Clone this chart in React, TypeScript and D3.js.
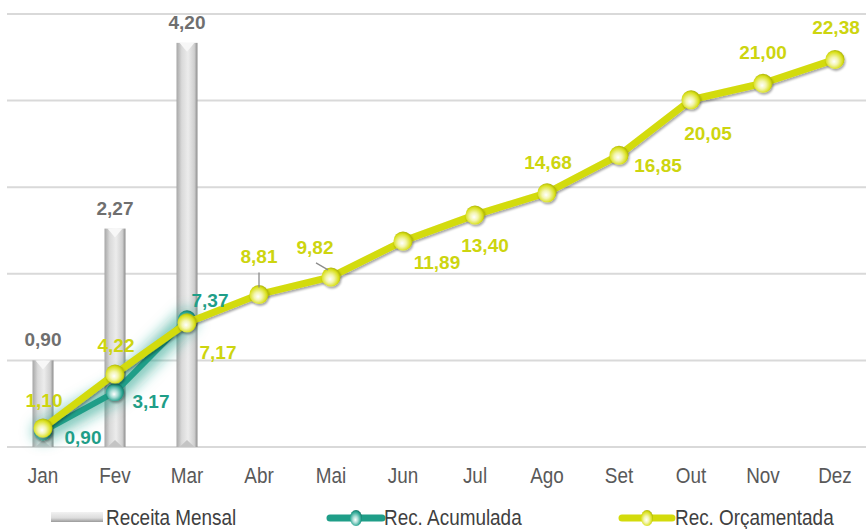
// Receita: barras mensais + linhas acumulada / orçamentada
import React, { useEffect, useRef } from 'react';
import * as d3 from 'd3';

const months = ['Jan', 'Fev', 'Mar', 'Abr', 'Mai', 'Jun', 'Jul', 'Ago', 'Set', 'Out', 'Nov', 'Dez'];
const monthly = [0.9, 2.27, 4.2];
const accumulated = [0.9, 3.17, 7.37];
const budget = [1.1, 4.22, 7.17, 8.81, 9.82, 11.89, 13.4, 14.68, 16.85, 20.05, 21.0, 22.38];
const yTicks = [0, 5, 10, 15, 20, 25];
const legendItems = ['Receita Mensal', 'Rec. Acumulada', 'Rec. Orçamentada'];

// label offsets (dx, dy) from the point, text centred
const budgetLabelOffset: [number, number][] = [
  [1, -21], [1, -22], [31, 36], [0, -31], [-16, -23], [34, 28],
  [10, 37], [1, -24], [39, 17], [17, 40], [0, -24], [1, -25],
];
const accLabelOffset: [number, number][] = [[40, 13], [36, 16], [23, -12]];
const leaderIdx = [3, 4];

const YELLOW = '#d3db0b';
const YELLOW_TXT = '#cdd50f';
const TEAL = '#1f9e88';
const GRAY_TXT = '#6f6f6f';
const fmt = (v: number) => v.toFixed(2).replace('.', ',');
const FONT = '"Liberation Sans", Arial, sans-serif';
const NARROW = 0.86;

const App: React.FC = () => {
  const svgRef = useRef<SVGSVGElement>(null);

  useEffect(() => {
    if (!svgRef.current) return;
    const svg = d3.select(svgRef.current);
    svg.selectAll('*').remove();

    const width = 866;
    const height = 529;
    const top = 14;
    const bottom = 447;

    const x = d3.scaleBand<string>().domain(months).range([7, 871]).padding(0);
    const cx = (i: number) => (x(months[i]) as number) + x.bandwidth() / 2;
    const y = d3.scaleLinear().domain([0, 25]).range([bottom, top]);
    const y2 = d3.scaleLinear().domain([0, 4.5]).range([bottom, top]);

    const defs = svg.append('defs');

    // bar gradient
    const bg = defs.append('linearGradient').attr('id', 'barGrad').attr('x1', '0%').attr('x2', '100%');
    bg.append('stop').attr('offset', '0%').attr('stop-color', '#a6a6a6');
    bg.append('stop').attr('offset', '25%').attr('stop-color', '#d9d9d9');
    bg.append('stop').attr('offset', '55%').attr('stop-color', '#ececec');
    bg.append('stop').attr('offset', '85%').attr('stop-color', '#cfcfcf');
    bg.append('stop').attr('offset', '100%').attr('stop-color', '#8c8c8c');

    const lg = defs.append('linearGradient').attr('id', 'legBar').attr('x1', '0%').attr('y1', '0%').attr('x2', '0%').attr('y2', '100%');
    lg.append('stop').attr('offset', '0%').attr('stop-color', '#f2f2f2');
    lg.append('stop').attr('offset', '60%').attr('stop-color', '#dcdcdc');
    lg.append('stop').attr('offset', '100%').attr('stop-color', '#9a9a9a');

    // sphere gradients
    const sphere = (id: string, light: string, mid: string, dark: string) => {
      const g = defs.append('radialGradient').attr('id', id)
        .attr('cx', '45%').attr('cy', '55%').attr('r', '60%').attr('fx', '45%').attr('fy', '62%');
      g.append('stop').attr('offset', '0%').attr('stop-color', '#ffffff');
      g.append('stop').attr('offset', '35%').attr('stop-color', light);
      g.append('stop').attr('offset', '75%').attr('stop-color', mid);
      g.append('stop').attr('offset', '100%').attr('stop-color', dark);
    };
    sphere('sphY', '#f3f5b0', '#d9e01c', '#9da400');
    sphere('sphT', '#a8ddd5', '#2aa592', '#12695b');

    const glow = defs.append('filter').attr('id', 'glow').attr('x', '-40%').attr('y', '-40%').attr('width', '180%').attr('height', '180%');
    glow.append('feGaussianBlur').attr('stdDeviation', 7);

    const shadow = defs.append('filter').attr('id', 'shadow').attr('x', '-50%').attr('y', '-50%').attr('width', '200%').attr('height', '200%');
    shadow.append('feDropShadow').attr('dx', 1).attr('dy', 2).attr('stdDeviation', 1.2).attr('flood-color', '#000').attr('flood-opacity', 0.35);

    // grid
    svg.append('g')
      .selectAll('line')
      .data(yTicks)
      .enter()
      .append('line')
      .attr('x1', 7)
      .attr('x2', width)
      .attr('y1', (d) => y(d))
      .attr('y2', (d) => y(d))
      .attr('stroke', '#d9d9d9')
      .attr('stroke-width', 2);

    // bars (secondary axis)
    const bw = 21;
    const bars = svg.append('g');
    monthly.forEach((v, i) => {
      const x0 = cx(i) - bw / 2;
      const yt = y2(v);
      bars.append('rect')
        .attr('x', x0).attr('y', yt).attr('width', bw).attr('height', bottom - yt)
        .attr('fill', 'url(#barGrad)');
      bars.append('path')
        .attr('d', `M${x0 + 3},${yt} L${x0 + bw - 3},${yt} L${x0 + bw / 2},${yt + 9} Z`)
        .attr('fill', '#f7f7f7');
      bars.append('path')
        .attr('d', `M${x0 + 3},${bottom} L${x0 + bw - 3},${bottom} L${x0 + bw / 2},${bottom - 7} Z`)
        .attr('fill', '#c4c4c4');
      bars.append('text')
        .attr('x', cx(i)).attr('y', yt - 14)
        .attr('text-anchor', 'middle')
        .attr('font-family', FONT)
        .attr('font-weight', 'bold').attr('font-size', 19)
        .attr('fill', GRAY_TXT)
        .text(fmt(v));
    });

    // x axis labels (condensed)
    svg.append('g')
      .selectAll('text')
      .data(months)
      .enter()
      .append('text')
      .attr('transform', (_d, i) => `translate(${cx(i)},483) scale(${NARROW},1)`)
      .attr('text-anchor', 'middle')
      .attr('font-family', FONT)
      .attr('font-size', 22)
      .attr('fill', '#595959')
      .text((d) => d);

    const line = d3.line<number>()
      .x((_d, i) => cx(i))
      .y((d) => y(d));

    // accumulated: glow + line
    svg.append('path')
      .datum(accumulated)
      .attr('d', line)
      .attr('fill', 'none')
      .attr('stroke', TEAL)
      .attr('stroke-width', 20)
      .attr('stroke-opacity', 0.6)
      .attr('stroke-linejoin', 'round')
      .attr('stroke-linecap', 'round')
      .attr('filter', 'url(#glow)');
    svg.append('path')
      .datum(accumulated)
      .attr('d', line)
      .attr('fill', 'none')
      .attr('stroke', TEAL)
      .attr('stroke-width', 6)
      .attr('stroke-linejoin', 'round');
    svg.append('g')
      .selectAll('circle')
      .data(accumulated)
      .enter()
      .append('circle')
      .attr('cx', (_d, i) => cx(i))
      .attr('cy', (d) => y(d))
      .attr('r', 9)
      .attr('fill', 'url(#sphT)')
      .attr('filter', 'url(#shadow)');

    // budget line
    svg.append('path')
      .datum(budget)
      .attr('d', line)
      .attr('fill', 'none')
      .attr('stroke', YELLOW)
      .attr('stroke-width', 7)
      .attr('stroke-linejoin', 'round')
      .attr('filter', 'url(#shadow)');
    svg.append('g')
      .selectAll('circle')
      .data(budget)
      .enter()
      .append('circle')
      .attr('cx', (_d, i) => cx(i))
      .attr('cy', (d) => y(d))
      .attr('r', 9.5)
      .attr('fill', 'url(#sphY)')
      .attr('filter', 'url(#shadow)');

    // leader lines
    leaderIdx.forEach((i) => {
      const [dx, dy] = budgetLabelOffset[i];
      const px = cx(i);
      const py = y(budget[i]);
      svg.append('line')
        .attr('x1', px + dx + (dx < 0 ? 1 : 0)).attr('y1', py + dy + 9)
        .attr('x2', px - (dx < 0 ? 3 : 0)).attr('y2', py - 7)
        .attr('stroke', '#8c8c8c').attr('stroke-width', 1.3);
    });

    // labels
    svg.append('g')
      .selectAll('text')
      .data(budget)
      .enter()
      .append('text')
      .attr('x', (_d, i) => cx(i) + budgetLabelOffset[i][0])
      .attr('y', (d, i) => y(d) + budgetLabelOffset[i][1])
      .attr('text-anchor', 'middle')
      .attr('font-family', FONT)
      .attr('font-weight', 'bold').attr('font-size', 19)
      .attr('fill', YELLOW_TXT)
      .text((d) => fmt(d));
    svg.append('g')
      .selectAll('text')
      .data(accumulated)
      .enter()
      .append('text')
      .attr('x', (_d, i) => cx(i) + accLabelOffset[i][0])
      .attr('y', (d, i) => y(d) + accLabelOffset[i][1])
      .attr('text-anchor', 'middle')
      .attr('font-family', FONT)
      .attr('font-weight', 'bold').attr('font-size', 19)
      .attr('fill', TEAL)
      .text((d) => fmt(d));

    // legend
    const leg = svg.append('g');
    const legText = (tx: number, label: string) =>
      leg.append('text')
        .attr('transform', `translate(${tx},525) scale(${NARROW},1)`)
        .attr('font-family', FONT).attr('font-size', 22).attr('fill', '#404040')
        .text(label);

    leg.append('rect').attr('x', 51).attr('y', 512).attr('width', 52).attr('height', 10).attr('fill', 'url(#legBar)');
    legText(106, legendItems[0]);

    leg.append('line').attr('x1', 330).attr('x2', 382).attr('y1', 518).attr('y2', 518).attr('stroke', TEAL).attr('stroke-width', 7).attr('stroke-linecap', 'round');
    leg.append('ellipse').attr('cx', 356).attr('cy', 518).attr('rx', 6).attr('ry', 8).attr('fill', 'url(#sphT)');
    legText(384, legendItems[1]);

    leg.append('line').attr('x1', 622).attr('x2', 672).attr('y1', 518).attr('y2', 518).attr('stroke', YELLOW).attr('stroke-width', 7).attr('stroke-linecap', 'round');
    leg.append('ellipse').attr('cx', 647).attr('cy', 518).attr('rx', 6).attr('ry', 8).attr('fill', 'url(#sphY)');
    legText(675, legendItems[2]);

    svg.attr('width', width).attr('height', height);
  }, []);

  return (
    <svg
      ref={svgRef}
      width={866}
      height={529}
      style={{ position: 'absolute', left: 0, top: 0, background: '#fff' }}
    />
  );
};

export default App;
